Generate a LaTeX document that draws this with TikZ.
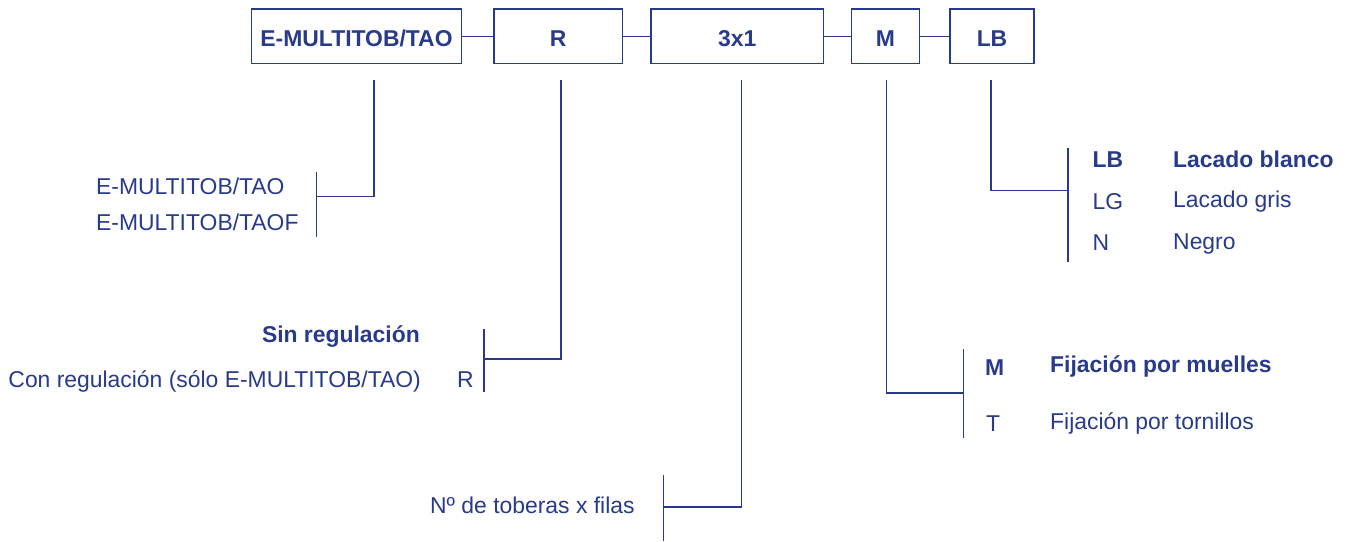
\documentclass[tikz,border=0pt]{standalone}
\usepackage{fontspec}
\setmainfont{Liberation Sans}
\definecolor{navy}{RGB}{40,58,138}
\begin{document}
\begin{tikzpicture}[x=1pt,y=-1pt,
  every node/.style={text=navy,font=\fontsize{22.9}{26}\selectfont},
  code/.style={draw=navy,line width=1.4pt,inner sep=0pt,minimum height=54.5pt,
    text height=20.5pt,text depth=0pt,font=\fontsize{22.9}{26}\selectfont\bfseries},
  lbl/.style={inner sep=0pt,anchor=base west},
  lblr/.style={inner sep=0pt,anchor=base east},
  bold/.style={font=\fontsize{22.9}{26}\selectfont\bfseries},
  wire/.style={draw=navy,line width=1.3pt}]
\useasboundingbox (0,0) rectangle (1351,541);
% boxes
\node[code,minimum width=210pt] (b1) at (356.5,36.25) {E-MULTITOB/TAO};
\node[code,minimum width=128.5pt] (b2) at (558.25,36.25) {R};
\node[code,minimum width=172.5pt] (b3) at (737.25,36.25) {3x1};
\node[code,minimum width=68pt] (b4) at (885.5,36.25) {M};
\node[code,minimum width=84pt] (b5) at (992,36.25) {LB};
\draw[wire] (b1.east) -- (b2.west);
\draw[wire] (b2.east) -- (b3.west);
\draw[wire] (b3.east) -- (b4.west);
\draw[wire] (b4.east) -- (b5.west);
% drop line starts
\coordinate (d1) at (374,80);
\coordinate (d2) at (561,80);
\coordinate (d3) at (741.5,80);
\coordinate (d4) at (886.5,80);
\coordinate (d5) at (991,80);
% brackets
\coordinate (k1t) at (316.5,172); \coordinate (k1b) at (316.5,237); \coordinate (k1) at (316.5,196.5);
\coordinate (k2t) at (484,329); \coordinate (k2b) at (484,392); \coordinate (k2) at (484,359);
\coordinate (k3t) at (663.5,475); \coordinate (k3b) at (663.5,541); \coordinate (k3) at (663.5,507);
\coordinate (k4t) at (963.5,349); \coordinate (k4b) at (963.5,438); \coordinate (k4) at (963.5,393);
\coordinate (k5t) at (1068,148); \coordinate (k5b) at (1068,262); \coordinate (k5) at (1068,190.5);
\draw[wire] (k1t) -- (k1b); \draw[wire] (d1) |- (k1);
\draw[wire] (k2t) -- (k2b); \draw[wire] (d2) |- (k2);
\draw[wire] (k3t) -- (k3b); \draw[wire] (d3) |- (k3);
\draw[wire] (k4t) -- (k4b); \draw[wire] (d4) |- (k4);
\draw[wire] (k5t) -- (k5b); \draw[wire] (d5) |- (k5);
% labels group 1
\node[lbl] (t1a) at (96,194) {E-MULTITOB/TAO};
\node[lbl] (t1b) at (96,230) {E-MULTITOB/TAOF};
% group 2
\node[lblr,bold] (t2a) at (420,342) {Sin regulación};
\node[lblr] (t2b) at (421,387) {Con regulación (sólo E-MULTITOB/TAO)};
\node[lbl] (t2c) at (457,387) {R};
% group 3
\node[lbl] (t3a) at (430,513) {Nº de toberas x filas};
% group 4
\node[lbl,bold] (t4a) at (985,375) {M};
\node[lbl,bold] (t4b) at (1050,372) {Fijación por muelles};
\node[lbl] (t4c) at (986,431) {T};
\node[lbl] (t4d) at (1050,429) {Fijación por tornillos};
% group 5
\node[lbl,bold] (t5a) at (1092.5,167.5) {LB};
\node[lbl,bold] (t5b) at (1173,167.5) {Lacado blanco};
\node[lbl] (t5c) at (1092.5,209) {LG};
\node[lbl] (t5d) at (1173,207) {Lacado gris};
\node[lbl] (t5e) at (1092.5,250.5) {N};
\node[lbl] (t5f) at (1173,249) {Negro};
\end{tikzpicture}
\end{document}
